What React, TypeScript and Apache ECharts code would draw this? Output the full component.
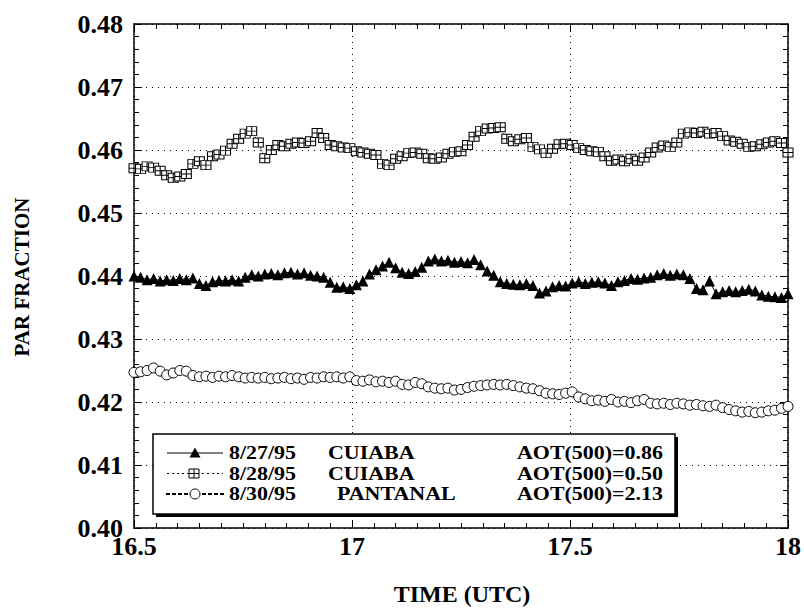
import React, { useEffect, useRef } from "react";
import * as echarts from "echarts";

// Sample times (UTC hours), one reading every 0.015 h from 16.5 to 18.0
const T_START = 16.5;
const T_STEP = 0.015;
const N_POINTS = 101;
const TIMES: number[] = Array.from({ length: N_POINTS }, (_, i) => +(T_START + i * T_STEP).toFixed(3));

const X_TICKS = [16.5, 17, 17.5, 18];
const Y_TICKS = [0.4, 0.41, 0.42, 0.43, 0.44, 0.45, 0.46, 0.47, 0.48];

const LEGEND_DATES = ["8/27/95", "8/28/95", "8/30/95"];
const LEGEND_SITES = ["CUIABA", "CUIABA", "PANTANAL"];
const LEGEND_AOT = ["AOT(500)=0.86", "AOT(500)=0.50", "AOT(500)=2.13"];

// 8/27/95 CUIABA (filled triangles)
const PAR_0827: number[] = [
  0.4400, 0.4398, 0.4394, 0.4396, 0.4392, 0.4394, 0.4393, 0.4396, 0.4394, 0.4397,
  0.4388, 0.4385, 0.4391, 0.4393, 0.4392, 0.4394, 0.4392, 0.4398, 0.4402, 0.4400,
  0.4403, 0.4404, 0.4402, 0.4405, 0.4406, 0.4403, 0.4405, 0.4401, 0.4400, 0.4398,
  0.4390, 0.4382, 0.4383, 0.4380, 0.4386, 0.4392, 0.4403, 0.4410, 0.4416, 0.4422,
  0.4413, 0.4406, 0.4404, 0.4407, 0.4414, 0.4424, 0.4427, 0.4424, 0.4425, 0.4422,
  0.4423, 0.4421, 0.4426, 0.4418, 0.4408, 0.4401, 0.4391, 0.4388, 0.4387, 0.4386,
  0.4388, 0.4385, 0.4373, 0.4376, 0.4383, 0.4385, 0.4384, 0.4389, 0.4391, 0.4388,
  0.4390, 0.4391, 0.4389, 0.4385, 0.4391, 0.4393, 0.4396, 0.4395, 0.4397, 0.4398,
  0.4402, 0.4404, 0.4401, 0.4403, 0.4402, 0.4396, 0.4380, 0.4378, 0.4392, 0.4372,
  0.4375, 0.4377, 0.4375, 0.4377, 0.4379, 0.4376, 0.4370, 0.4368, 0.4367, 0.4366,
  0.4372,
];

// 8/28/95 CUIABA (crossed squares)
const PAR_0828: number[] = [
  0.4571, 0.4570, 0.4574, 0.4572, 0.4567, 0.4560, 0.4556, 0.4558, 0.4562, 0.4578,
  0.4582, 0.4576, 0.4590, 0.4593, 0.4599, 0.4610, 0.4618, 0.4626, 0.4630, 0.4612,
  0.4587, 0.4600, 0.4608, 0.4606, 0.4610, 0.4612, 0.4611, 0.4614, 0.4627, 0.4619,
  0.4608, 0.4606, 0.4604, 0.4603, 0.4598, 0.4596, 0.4594, 0.4592, 0.4578, 0.4576,
  0.4586, 0.4590, 0.4595, 0.4596, 0.4594, 0.4587, 0.4586, 0.4588, 0.4594, 0.4597,
  0.4598, 0.4608, 0.4621, 0.4630, 0.4634, 0.4635, 0.4636, 0.4618, 0.4614, 0.4617,
  0.4619, 0.4605, 0.4601, 0.4595, 0.4602, 0.4609, 0.4610, 0.4608, 0.4603, 0.4600,
  0.4598, 0.4597, 0.4590, 0.4583, 0.4585, 0.4582, 0.4586, 0.4583, 0.4588, 0.4596,
  0.4604, 0.4607, 0.4605, 0.4612, 0.4626, 0.4628, 0.4627, 0.4629, 0.4626, 0.4627,
  0.4622, 0.4615, 0.4613, 0.4610, 0.4605, 0.4606, 0.4609, 0.4612, 0.4614, 0.4611,
  0.4596,
];

// 8/30/95 PANTANAL (open circles)
const PAR_0830: number[] = [
  0.4247, 0.4248, 0.4250, 0.4254, 0.4249, 0.4243, 0.4246, 0.4250, 0.4249, 0.4242,
  0.4240, 0.4241, 0.4239, 0.4241, 0.4240, 0.4242, 0.4240, 0.4238, 0.4239, 0.4238,
  0.4239, 0.4237, 0.4238, 0.4239, 0.4237, 0.4238, 0.4236, 0.4239, 0.4238, 0.4240,
  0.4239, 0.4240, 0.4238, 0.4240, 0.4234, 0.4233, 0.4235, 0.4232, 0.4233, 0.4231,
  0.4233, 0.4228, 0.4227, 0.4231, 0.4229, 0.4224, 0.4222, 0.4221, 0.4222, 0.4219,
  0.4220, 0.4223, 0.4225, 0.4226, 0.4227, 0.4228, 0.4227, 0.4228, 0.4226, 0.4224,
  0.4222, 0.4221, 0.4218, 0.4214, 0.4213, 0.4212, 0.4214, 0.4216, 0.4208, 0.4205,
  0.4202, 0.4203, 0.4201, 0.4204, 0.4200, 0.4201, 0.4199, 0.4202, 0.4204, 0.4198,
  0.4197, 0.4198, 0.4196, 0.4198, 0.4197, 0.4195, 0.4196, 0.4194, 0.4193, 0.4195,
  0.4191, 0.4188, 0.4186, 0.4184, 0.4185, 0.4183, 0.4184, 0.4186, 0.4187, 0.4190,
  0.4193,
];

const FONT = "'Liberation Serif', 'Times New Roman', serif";
const SQUARE_CROSS = "path://M0,0H10V9H0Z M5,0V9 M0,4.5H10";

function pairs(vals: number[]) {
  return vals.map((v, i) => [TIMES[i], v]);
}

export default function App() {
  const ref = useRef<HTMLDivElement>(null);

  useEffect(() => {
    if (!ref.current) return;
    const chart = echarts.init(ref.current, undefined, { renderer: "svg" });

    const axisLabel = {
      color: "#000",
      fontFamily: FONT,
      fontWeight: "bold" as const,
      fontSize: 26,
    };
    const tickStyle = { color: "#000", width: 1 };
    const lineStyle = { color: "#000", width: 1.5 };
    const gridLine = { color: "#000", width: 1, type: [1, 5] as any };

    const legendRowsY = [453, 473.5, 494];
    const legendText = (text: string, x: number, y: number, align: string) => ({
      type: "text",
      z: 102,
      x,
      y,
      scaleX: 1.22,
      scaleY: 1,
      style: {
        text,
        fill: "#000",
        font: `bold 18px ${FONT}`,
        align,
        verticalAlign: "middle",
      },
    });

    const legendGraphics: any[] = [
      { type: "rect", z: 100, shape: { x: 156, y: 437, width: 522, height: 80 }, style: { fill: "#000" } },
      { type: "rect", z: 101, shape: { x: 153, y: 434, width: 522, height: 80 }, style: { fill: "#fff", stroke: "#000", lineWidth: 1.5 } },
      // row 1: solid line + filled triangle
      { type: "line", z: 102, shape: { x1: 167, y1: legendRowsY[0], x2: 223, y2: legendRowsY[0] }, style: { stroke: "#000", lineWidth: 1 } },
      { type: "polygon", z: 103, shape: { points: [[195, legendRowsY[0] - 5.5], [189.5, legendRowsY[0] + 4.5], [200.5, legendRowsY[0] + 4.5]] }, style: { fill: "#000" } },
      // row 2: dotted line + crossed square
      { type: "line", z: 102, shape: { x1: 167, y1: legendRowsY[1], x2: 223, y2: legendRowsY[1] }, style: { stroke: "#000", lineWidth: 1, lineDash: [2, 3] } },
      { type: "rect", z: 103, shape: { x: 189, y: legendRowsY[1] - 4.5, width: 10, height: 9 }, style: { fill: "#fff", stroke: "#000", lineWidth: 1 } },
      { type: "line", z: 104, shape: { x1: 194, y1: legendRowsY[1] - 4.5, x2: 194, y2: legendRowsY[1] + 4.5 }, style: { stroke: "#000", lineWidth: 1 } },
      { type: "line", z: 104, shape: { x1: 189, y1: legendRowsY[1], x2: 199, y2: legendRowsY[1] }, style: { stroke: "#000", lineWidth: 1 } },
      // row 3: dashed line + open circle
      { type: "line", z: 102, shape: { x1: 166, y1: legendRowsY[2], x2: 224, y2: legendRowsY[2] }, style: { stroke: "#000", lineWidth: 2, lineDash: [4, 2] } },
      { type: "circle", z: 103, shape: { cx: 195, cy: legendRowsY[2], r: 5 }, style: { fill: "#fff", stroke: "#000", lineWidth: 1 } },
    ];
    LEGEND_DATES.forEach((d, i) => legendGraphics.push(legendText(d, 229, legendRowsY[i], "left")));
    LEGEND_SITES.forEach((s, i) => legendGraphics.push(legendText(s, i === 2 ? 337 : 328, legendRowsY[i], "left")));
    LEGEND_AOT.forEach((a, i) => legendGraphics.push(legendText(a, 663, legendRowsY[i], "right")));

    const titles: any[] = [
      {
        type: "text",
        x: 462,
        y: 594,
        style: { text: "TIME (UTC)", fill: "#000", font: `bold 24px ${FONT}`, align: "center", verticalAlign: "middle" },
      },
      {
        type: "text",
        x: 22,
        y: 277,
        rotation: Math.PI / 2,
        style: { text: "PAR FRACTION", fill: "#000", font: `bold 21px ${FONT}`, align: "center", verticalAlign: "middle" },
      },
    ];

    const xMin = X_TICKS[0];
    const xMax = X_TICKS[X_TICKS.length - 1];
    const yMin = Y_TICKS[0];
    const yMax = Y_TICKS[Y_TICKS.length - 1];

    chart.setOption({
      animation: false,
      backgroundColor: "#fff",
      grid: { left: 134, right: 9, top: 24, bottom: 84 },
      xAxis: [
        {
          type: "value",
          min: xMin,
          max: xMax,
          interval: 0.5,
          position: "bottom",
          axisLine: { show: true, onZero: false, lineStyle },
          axisTick: { show: true, inside: true, length: 8, lineStyle: tickStyle },
          minorTick: { show: true, splitNumber: 10, length: 5, lineStyle: tickStyle },
          splitLine: { show: true, lineStyle: gridLine },
          axisLabel: { ...axisLabel, margin: 5 },
        },
        {
          type: "value",
          min: xMin,
          max: xMax,
          interval: 0.5,
          position: "top",
          axisLine: { show: true, onZero: false, lineStyle },
          axisTick: { show: true, inside: true, length: 8, lineStyle: tickStyle },
          minorTick: { show: true, splitNumber: 10, length: 5, lineStyle: tickStyle },
          splitLine: { show: false },
          axisLabel: { show: false },
        },
      ],
      yAxis: [
        {
          type: "value",
          min: yMin,
          max: yMax,
          interval: 0.01,
          position: "left",
          axisLine: { show: true, onZero: false, lineStyle },
          axisTick: { show: true, inside: true, length: 8, lineStyle: tickStyle },
          minorTick: { show: true, splitNumber: 5, length: 5, lineStyle: tickStyle },
          splitLine: { show: true, lineStyle: gridLine },
          axisLabel: { ...axisLabel, margin: 11, formatter: (v: number) => v.toFixed(2) },
        },
        {
          type: "value",
          min: yMin,
          max: yMax,
          interval: 0.01,
          position: "right",
          axisLine: { show: true, onZero: false, lineStyle },
          axisTick: { show: true, inside: true, length: 8, lineStyle: tickStyle },
          minorTick: { show: true, splitNumber: 5, length: 5, lineStyle: tickStyle },
          splitLine: { show: false },
          axisLabel: { show: false },
        },
      ],
      series: [
        {
          name: "8/27/95 CUIABA",
          type: "line",
          xAxisIndex: 0,
          yAxisIndex: 0,
          data: pairs(PAR_0827),
          symbol: "triangle",
          symbolSize: 11,
          showAllSymbol: true,
          itemStyle: { color: "#000" },
          lineStyle: { color: "#000", width: 1 },
        },
        {
          name: "8/28/95 CUIABA",
          type: "line",
          xAxisIndex: 0,
          yAxisIndex: 0,
          data: pairs(PAR_0828),
          symbol: SQUARE_CROSS,
          symbolSize: [10, 9],
          showAllSymbol: true,
          itemStyle: { color: "#fff", borderColor: "#000", borderWidth: 1 },
          lineStyle: { color: "#000", width: 1, type: "dotted" },
        },
        {
          name: "8/30/95 PANTANAL",
          type: "line",
          xAxisIndex: 0,
          yAxisIndex: 0,
          data: pairs(PAR_0830),
          symbol: "circle",
          symbolSize: 10,
          showAllSymbol: true,
          itemStyle: { color: "#fff", borderColor: "#000", borderWidth: 1 },
          lineStyle: { color: "#000", width: 1, type: "dashed" },
        },
      ],
      graphic: [...titles, ...legendGraphics],
    });

    return () => chart.dispose();
  }, []);

  return <div ref={ref} style={{ width: 804, height: 612, position: "absolute", left: 0, top: 0 }} />;
}
